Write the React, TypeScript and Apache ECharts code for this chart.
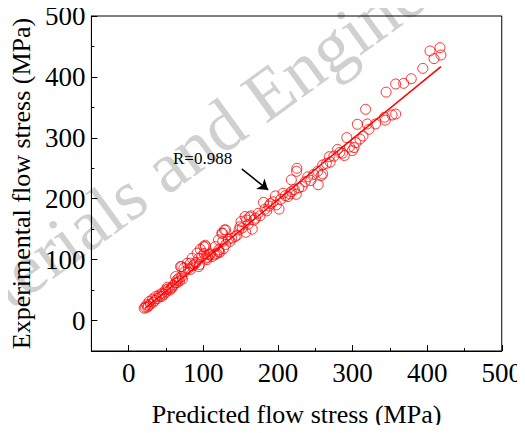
import React, { useEffect, useRef } from "react";
import * as echarts from "echarts";

// Predicted vs. experimental flow stress (MPa)
const predicted: number[] = [
  20.8, 22.1, 23.9, 25, 26.5, 27.5, 29, 31.9, 33, 35, 36.3, 38, 40.7, 42, 44.3, 45, 47, 49.6, 50, 51.8,
  53, 55, 57, 58.5, 60, 62.9, 63, 65.1, 65, 67.3, 68, 69.5, 70.9, 71, 72, 74, 75, 78.4, 80, 82.8,
  82.8, 85, 86, 88, 90, 91.7, 93.9, 93.9, 95, 96, 98, 100.5, 101, 102.7, 102.7, 103.6, 105, 106, 108, 109.4,
  112, 115, 116, 118, 120.5, 120.5, 120.5, 122, 124.8, 125.8, 126, 127, 128.4, 130, 130, 133.7, 136, 138, 142.6, 145,
  147.9, 149.2, 150.6, 152, 155.9, 156.8, 158, 160, 162, 163.9, 165.6, 168, 170, 173.6, 176, 180.7, 182.5, 185, 188, 190,
  193.5, 196.6, 198, 201.5, 203.7, 206.8, 210, 213.5, 216, 218, 218, 222, 224.6, 225, 225.4, 228, 232.5, 236.5, 240, 244,
  248, 253.3, 254, 258, 260, 260, 265, 268.8, 270, 275, 280, 283, 286.5, 289, 292.3, 296, 299.8, 302, 304.3, 306.5,
  310, 314, 317.5, 319.7, 322, 330.8, 342.8, 344, 345, 353, 357.8, 357.8, 368.5, 378.7, 394.2, 403.9, 409.2, 417.2, 418.5,
];
const experimental: number[] = [
  20.2, 21.9, 25.7, 22, 24, 31.2, 27, 35, 30, 33, 39.4, 36, 42, 40, 39.4, 45, 43, 50.3, 47, 54.7,
  52, 50, 53, 54.8, 58, 72.2, 62, 62.4, 66.8, 69.5, 65, 88.6, 88.6, 72, 68, 86, 80, 94, 85, 84,
  94.2, 102.3, 90, 92, 95, 110.6, 88.6, 102.3, 92, 117, 105, 121.4, 110, 123.6, 121.5, 102.3, 100, 104, 107.8, 109.4,
  105, 108, 121.4, 110, 113, 116, 132.4, 112, 143.3, 143.4, 130, 118, 148.8, 148.8, 125, 133.5, 130, 135, 137.9, 140,
  148.8, 154, 162.5, 152, 170.7, 145, 165, 158, 170, 171.8, 150, 165, 168, 176, 172, 194, 182.7, 180, 188, 192,
  195, 204.6, 190, 183, 199, 209, 205, 203.5, 208, 211.7, 231, 215, 207.3, 245, 250, 218, 220, 228, 236, 229.8,
  240, 245, 223, 238, 240.7, 255.5, 258, 269, 260, 270, 281, 276, 274.6, 271, 300.3, 285, 279, 284, 292, 322.2,
  298, 303, 346.8, 322.7, 314, 322.7, 333.7, 329, 375, 337.5, 339, 388.4, 389.5, 397, 414, 442.6, 430, 448, 436,
];

// Linear fit end points
const fitX: number[] = [22, 418.5];
const fitY: number[] = [20, 416.9];

// Annotation arrow (data coordinates)
const arrowFrom: number[] = [151.5, 248.9];
const arrowTo: number[] = [186.9, 214.4];
const rLabel = "R=0.988";

const majorTicks: number[] = [0, 100, 200, 300, 400, 500];

const SERIF = "'Liberation Serif', 'Times New Roman', serif";

export default function App() {
  const ref = useRef<HTMLDivElement>(null);

  useEffect(() => {
    if (!ref.current) return;
    const chart = echarts.init(ref.current, null, { renderer: "svg" });

    const points = predicted.map((x, i) => [x, experimental[i]]);
    const fit = fitX.map((x, i) => [x, fitY[i]]);

    const axisCommon = {
      type: "value" as const,
      min: -50,
      max: 500,
      interval: 50,
      splitLine: { show: false },
    };

    const mainAxis = (isX: boolean) => ({
      ...axisCommon,
      position: isX ? "bottom" : "left",
      axisLine: { show: true, onZero: false, lineStyle: { color: "#000", width: 1 } },
      axisTick: { show: true, inside: true, length: 3, lineStyle: { color: "#000", width: 1 } },
      axisLabel: {
        customValues: majorTicks,
        color: "#000",
        fontFamily: SERIF,
        fontSize: 27,
        margin: isX ? 8 : 6,
      },
      name: isX ? "Predicted flow stress (MPa)" : "Experimental flow stress (MPa)",
      nameLocation: "middle",
      nameGap: 50,
      nameTextStyle: { color: "#000", fontFamily: SERIF, fontSize: 26 },
    });

    const majorTickAxis = (isX: boolean) => ({
      ...axisCommon,
      position: isX ? "bottom" : "left",
      axisLine: { show: false, onZero: false },
      axisTick: {
        show: true,
        inside: true,
        length: 6,
        customValues: majorTicks,
        lineStyle: { color: "#000", width: 1 },
      },
      axisLabel: { show: false },
    });

    chart.setOption({
      animation: false,
      backgroundColor: "#fff",
      grid: {
        left: 89,
        top: 16,
        right: 23,
        bottom: 82,
        show: true,
        borderColor: "#000",
        borderWidth: 1,
        backgroundColor: "transparent",
      },
      xAxis: [mainAxis(true), majorTickAxis(true)],
      yAxis: [mainAxis(false), majorTickAxis(false)],
      graphic: [
        {
          type: "text",
          x: 17,
          y: 320,
          rotation: (36 * Math.PI) / 180,
          z: -10,
          silent: true,
          style: {
            text: "terials and Engine",
            fontFamily: SERIF,
            fontSize: 72,
            fill: "#d0d0d0",
            align: "left",
            verticalAlign: "bottom",
          },
        },
        {
          type: "text",
          x: 173,
          y: 158.5,
          z: 10,
          style: {
            text: rLabel,
            fontFamily: SERIF,
            fontSize: 17,
            fill: "#000",
            align: "left",
            verticalAlign: "middle",
          },
        },
      ],
      series: [
        {
          type: "scatter",
          data: points,
          symbol: "circle",
          symbolSize: 10,
          itemStyle: { color: "transparent", borderColor: "#ff0000", borderWidth: 1 },
          z: 3,
        },
        {
          type: "line",
          data: fit,
          symbol: "none",
          lineStyle: { color: "#ff0000", width: 1.5 },
          z: 4,
          markLine: {
            silent: true,
            symbol: ["none", "arrow"],
            symbolSize: 10,
            label: { show: false },
            lineStyle: { color: "#000", width: 1.5, type: "solid" },
            data: [[{ coord: arrowFrom }, { coord: arrowTo }]],
          },
        },
      ],
    });

    return () => chart.dispose();
  }, []);

  return <div ref={ref} style={{ width: 525, height: 433, margin: -8 }} />;
}
